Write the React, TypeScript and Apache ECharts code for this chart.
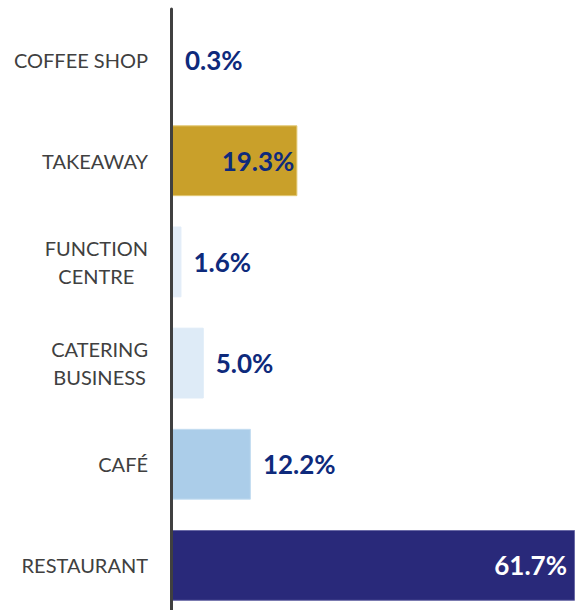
import React, { useEffect, useRef } from "react";
import * as echarts from "echarts";

const categories = ["COFFEE SHOP", "TAKEAWAY", "FUNCTION\nCENTRE", "CATERING\nBUSINESS", "CAFÉ", "RESTAURANT"];
const values = [0.3, 19.3, 1.6, 5.0, 12.2, 61.7];
const barColors = ["#9dc3e6", "#c9a02a", "#e3edf8", "#deebf7", "#abcde9", "#29297a"];
const borderColors = ["#9dc3e6", "#e2c874", "#e3edf8", "#deebf7", "#c3dcf1", "#6a6aa6"];
const insideLabel = [false, true, false, false, false, true];
const labelColors = ["#0e2a7c", "#0e2a7c", "#0e2a7c", "#0e2a7c", "#0e2a7c", "#ffffff"];

export default function App() {
  const ref = useRef<HTMLDivElement>(null);
  useEffect(() => {
    if (!ref.current) return;
    const chart = echarts.init(ref.current, undefined, { renderer: "svg" });
    const data = values.map((v, i) => ({
      value: v,
      itemStyle: { color: barColors[i], borderColor: borderColors[i], borderWidth: 1 },
      label: {
        show: true,
        position: insideLabel[i] ? "insideRight" : "right",
        distance: insideLabel[i] ? (i === 5 ? 8 : 3) : 12,
        color: labelColors[i],
        fontFamily: "Lato",
        fontWeight: "bold",
        fontSize: 26,
        formatter: (p: any) => p.value.toFixed(1) + "%",
      },
    }));
    chart.setOption({
      animation: false,
      grid: { left: 171, right: 0, top: 9, bottom: 0, containLabel: false },
      xAxis: {
        type: "value",
        min: 0,
        max: 61.7,
        show: false,
      },
      yAxis: {
        type: "category",
        data: categories,
        inverse: true,
        z: 10,
        axisLine: { show: true, lineStyle: { color: "#404040", width: 3 } },
        axisTick: { show: false },
        splitLine: { show: false },
        axisLabel: {
          margin: 23,
          align: "right",
          color: "#404040",
          fontFamily: "Lato",
          fontSize: 20,
          lineHeight: 28,
          formatter: (v: string) =>
            v
              .split("\n")
              .map((s) => "{a|" + s + "}")
              .join("\n"),
          rich: {
            a: {
              align: "center",
              color: "#404040",
              fontFamily: "Lato",
              fontSize: 20,
              lineHeight: 28,
            },
          },
        },
      },
      series: [
        {
          type: "bar",
          data,
          barWidth: "70%",
        },
      ],
    });
    return () => chart.dispose();
  }, []);
  return (
    <div
      ref={ref}
      style={{ position: "fixed", left: 0, top: 0, width: 575, height: 616, background: "#fff" }}
    />
  );
}
